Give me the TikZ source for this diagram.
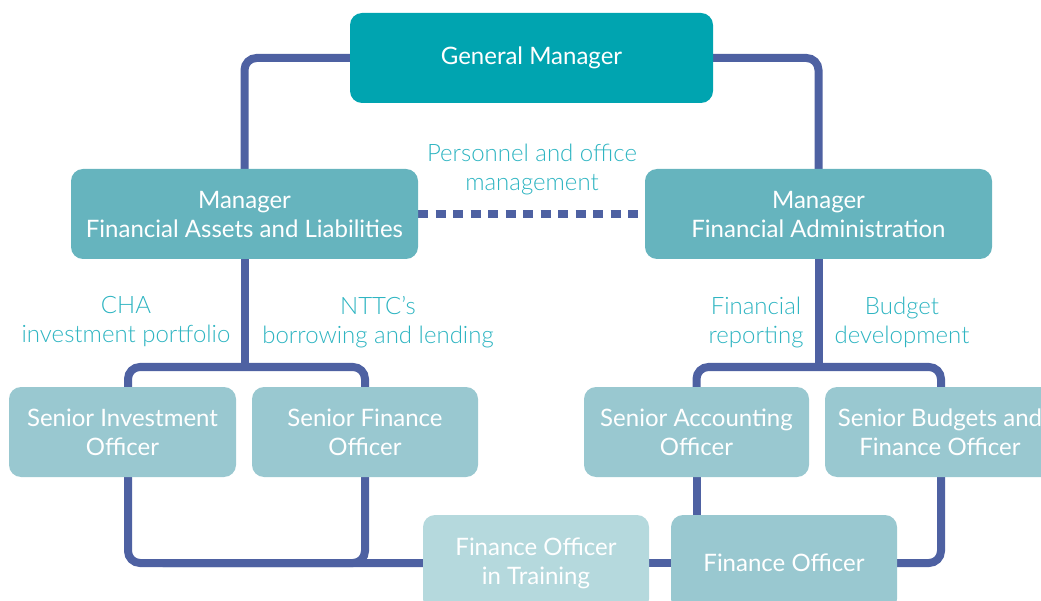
\documentclass[tikz,border=0pt]{standalone}
\usepackage{fontspec}
\setmainfont{Lato}
\newfontfamily\lightfont{Lato Light}
\usetikzlibrary{backgrounds}
\definecolor{gmcol}{HTML}{00A4B0}
\definecolor{mgrcol}{HTML}{66B4BE}
\definecolor{srcol}{HTML}{99C8D0}
\definecolor{fitcol}{HTML}{B5D9DD}
\definecolor{linecol}{HTML}{4E61A2}
\definecolor{labcol}{HTML}{2DB4C1}
\tikzset{
  orgbox/.style={rounded corners=12pt, text=white, align=center, inner sep=0pt,
    font=\fontsize{24}{29}\selectfont},
  conn/.style={draw=linecol, line width=8pt, rounded corners=12pt},
  dotconn/.style={draw=linecol, line width=8pt, dash pattern=on 10pt off 7.5pt},
  lab/.style={text=labcol, align=center, inner sep=0pt, font=\lightfont\fontsize{24}{29}\selectfont}
}
\begin{document}
\begin{tikzpicture}[x=1pt,y=-1pt]
\useasboundingbox (0,0) rectangle (1041,601);
\node[orgbox, fill=gmcol, minimum width=363pt, minimum height=90pt] (gm) at (531.5,58) {General Manager};
\node[orgbox, fill=mgrcol, minimum width=347pt, minimum height=90pt] (m1) at (244.5,214) {Manager\\Financial Assets and Liabilities};
\node[orgbox, fill=mgrcol, minimum width=347pt, minimum height=90pt] (m2) at (818.5,214) {Manager\\Financial Administration};
\node[orgbox, fill=srcol, minimum width=227pt, minimum height=90pt] (sio) at (122.5,432) {Senior Investment\\Officer};
\node[orgbox, fill=srcol, minimum width=226pt, minimum height=90pt] (sfo) at (365,432) {Senior Finance\\Officer};
\node[orgbox, fill=srcol, minimum width=225pt, minimum height=90pt] (sao) at (696.5,432) {Senior Accounting\\Officer};
\node[orgbox, fill=srcol, minimum width=230pt, minimum height=90pt] (sbfo) at (940,432) {Senior Budgets and\\Finance Officer};
\node[orgbox, fill=fitcol, minimum width=226pt, minimum height=96pt] (fit) at (536,563) {Finance Officer\\in Training};
\node[orgbox, fill=srcol, minimum width=226pt, minimum height=96pt] (fo) at (784,563) {Finance Officer};

\node[lab] (l0) at (532,169) {Personnel and office\\management};
\node[lab] (l1) at (126,322) {CHA\\investment portfolio};
\node[lab] (l2) at (378,322) {NTTC’s\\borrowing and lending};
\node[lab] (l3) at (756,322) {Financial\\reporting};
\node[lab] (l4) at (902,322) {Budget\\development};

\coordinate (lb) at (244.5,367);
\coordinate (rb) at (818.5,367);
\begin{scope}[on background layer]
\draw[conn] (gm.west) -| (m1.north);
\draw[conn] (gm.east) -| (m2.north);
\draw[dotconn] (m1.east) -- (m2.west);
\draw[conn] (m1.south) -- (lb);
\draw[conn] ([xshift=5.5pt]sio.north) |- (lb) -| (sfo.north);
\draw[conn] ([xshift=5.5pt]sio.south) |- (fit.west);
\draw[conn] (sfo.south) |- ([xshift=40pt]sio.south |- fit.west);
\draw[conn] (fit.east) -- (fo.west);
\draw[conn] (m2.south) -- (rb);
\draw[conn] (sao.north) |- (rb) -| ([xshift=1pt]sbfo.north);
\draw[conn] (sao.south) -- (sao.south |- fo.north);
\draw[conn] ([xshift=1pt]sbfo.south) |- (fo.east);
\end{scope}
\end{tikzpicture}
\end{document}
